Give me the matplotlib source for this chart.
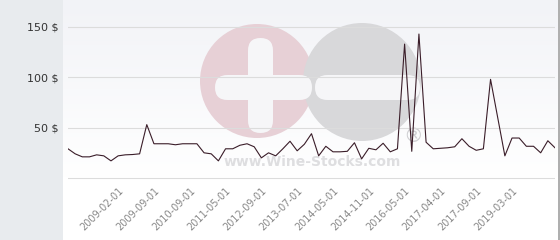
import matplotlib
matplotlib.use('Agg')
import matplotlib.pyplot as plt
import matplotlib.transforms as mtransforms
import numpy as np
from matplotlib.patches import Circle, FancyBboxPatch, Rectangle

# price history (one value per listing, category axis)
prices = [29, 24, 21, 21, 23, 22, 17, 22, 23, 23.3, 24, 53, 34, 34, 34, 33, 34, 34, 34,
          25, 24, 17, 29, 29, 32.5, 34, 31, 20, 25, 22, 29, 36.5, 27, 33.5, 44, 22,
          31.5, 26, 26, 26.5, 35, 19, 29.5, 28, 34.5, 26, 29, 133, 26.5, 143, 35.5,
          29, 29.5, 30, 31, 39, 31.5, 27.5, 29, 98, 60, 22, 39.7, 39.7, 31.5, 31.5,
          25, 37, 30]
label_idx = [8, 13, 18, 23, 28, 33, 38, 43, 48, 53, 58, 63]
labels = ['2009-02-01', '2009-09-01', '2010-09-01', '2011-05-01', '2012-09-01',
          '2013-07-01', '2014-05-01', '2014-11-01', '2016-05-01', '2017-04-01',
          '2017-09-01', '2019-03-01']
yticks = [50, 100, 150]
ytick_labels = ['50 $', '100 $', '150 $']

W, H = 560, 240
fig = plt.figure(figsize=(W / 100, H / 100), dpi=100)
fig.patch.set_facecolor('white')

# background layer in pixel coordinates
bg = fig.add_axes([0, 0, 1, 1])
bg.set_xlim(0, W)
bg.set_ylim(H, 0)
bg.axis('off')
bg.add_patch(Rectangle((0, 0), 63, H, color='#e8ebee', lw=0))
grad = np.linspace(0, 1, 100).reshape(-1, 1)
top = np.array([242, 243, 247]) / 255.
img = top + (np.array([1., 1., 1.]) - top) * grad[..., None]
img = np.repeat(img, 2, axis=1)
bg.imshow(img, extent=(63, 558, 178, 0), aspect='auto', zorder=0)
bg.plot([559, 559], [0, H], color='#a0a0a0', lw=1.2, zorder=1)

# watermark
bg.add_patch(Circle((257, 81), 57, color='#e7d0d6', lw=0, zorder=2))
bg.add_patch(Circle((362, 82), 59, color='#d8d8da', lw=0, zorder=3))
wm = '#f6f6f8'
bg.add_patch(FancyBboxPatch((248, 38), 25, 95, boxstyle='round,pad=0,rounding_size=12.5',
                            color=wm, lw=0, zorder=4))
bg.add_patch(FancyBboxPatch((215, 75), 97, 25, boxstyle='round,pad=0,rounding_size=12.5',
                            color=wm, lw=0, zorder=4))
bg.add_patch(FancyBboxPatch((315, 75), 105, 25, boxstyle='round,pad=0,rounding_size=12.5',
                            color=wm, lw=0, zorder=4))
bg.text(413, 137, '®', fontsize=14, color='#cfcfd2', ha='center', va='center', zorder=5)
bg.text(312, 162, 'www.Wine-Stocks.com', fontsize=10, fontweight='bold',
        color='#dedee0', ha='center', va='center', zorder=5)

# main chart
ax = fig.add_axes([68 / W, 60 / H, 487 / W, 180 / H])
ax.patch.set_alpha(0)
x = np.arange(len(prices))
ax.plot(x, prices, color='#3a1d29', lw=0.8)
ax.set_xlim(0, len(prices) - 1)
ax.set_ylim(-2, 176.8)
for s in ax.spines.values():
    s.set_visible(False)
for v in [0] + yticks:
    ax.axhline(v, color='#dcdcdc', lw=0.8, zorder=0)
ax.set_yticks(yticks)
ax.set_yticklabels(ytick_labels, fontsize=8, color='#333333')
ax.set_xticks(label_idx)
ax.set_xticklabels(labels, fontsize=7, color='#888888', rotation=45,
                   ha='right', va='top', rotation_mode='anchor')
ax.tick_params(axis='y', length=0, pad=7)
ax.tick_params(axis='x', length=0, pad=4)
shift = mtransforms.ScaledTranslation(-7 / 100, 0, fig.dpi_scale_trans)
for lab in ax.get_xticklabels():
    lab.set_transform(lab.get_transform() + shift)

fig.savefig('out.png', dpi=100)
